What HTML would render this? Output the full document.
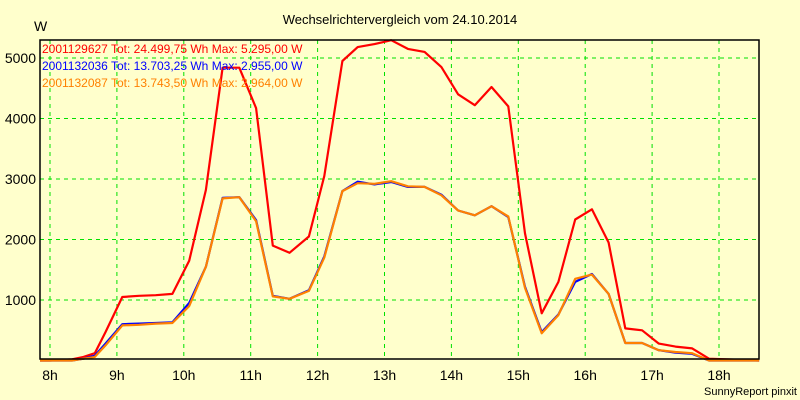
<!DOCTYPE html>
<html><head><meta charset="utf-8"><style>
body{margin:0;background:#ffffcc;}
svg{display:block;font-family:"Liberation Sans",sans-serif;}
</style></head><body>
<svg id="chart" width="800" height="400">
<rect x="0" y="0" width="800" height="400" fill="#ffffcc"/>
<text x="400" y="24" text-anchor="middle" font-size="13" fill="#000">Wechselrichtervergleich vom 24.10.2014</text>
<text x="34" y="31" font-size="14" fill="#000">W</text>
<text x="797" y="395" text-anchor="end" font-size="11" fill="#000">SunnyReport pinxit</text>
<g id="grid"></g>
<g id="series"></g>
<rect x="40" y="40" width="719" height="319" fill="none" stroke="#000" stroke-width="1.5"/>
<g id="axes"></g>
<g id="legend"></g>
</svg>
<script>
const times=[7.85,8.0,8.33,8.5,8.67,8.83,9.08,9.33,9.58,9.83,10.08,10.33,10.58,10.83,11.08,11.33,11.58,11.87,12.1,12.37,12.6,12.85,13.1,13.35,13.6,13.85,14.1,14.35,14.6,14.85,15.1,15.35,15.6,15.85,16.1,16.35,16.6,16.85,17.1,17.35,17.6,17.85,18.6];
const redVals=[0,0,20,60,120,470,1050,1070,1080,1100,1650,2820,4840,4840,4170,1900,1780,2050,3050,4950,5180,5230,5295,5150,5100,4850,4400,4220,4520,4200,2100,780,1300,2330,2500,1950,530,500,280,230,200,30,0];
const blueVals=[0,0,0,30,80,280,600,610,620,630,950,1550,2690,2700,2320,1070,1020,1160,1720,2800,2955,2910,2950,2870,2870,2740,2480,2400,2550,2370,1220,470,760,1300,1430,1100,290,290,170,130,110,0,0];
const orangeVals=[0,0,0,30,60,250,580,590,610,620,900,1550,2680,2700,2300,1060,1020,1150,1700,2800,2930,2920,2964,2880,2870,2730,2480,2400,2550,2380,1200,450,750,1350,1420,1100,290,290,170,140,120,0,0];
const xTicks=[8,9,10,11,12,13,14,15,16,17,18];
const xTickLabels=["8h","9h","10h","11h","12h","13h","14h","15h","16h","17h","18h"];
const yTicks=[1000,2000,3000,4000,5000];
const legendLabels=["2001129627 Tot: 24.499,75 Wh Max: 5.295,00 W","2001132036 Tot: 13.703,25 Wh Max: 2.955,00 W","2001132087 Tot: 13.743,50 Wh Max: 2.964,00 W"];
const NS="http://www.w3.org/2000/svg";
function xs(h){return 50+(h-8)*66.9;}
function ys(v){return 360.5-v*0.0605;}
function mk(tag,attrs,parent){const e=document.createElementNS(NS,tag);for(const k in attrs)e.setAttribute(k,attrs[k]);parent.appendChild(e);return e;}
const grid=document.getElementById('grid'),axes=document.getElementById('axes'),ser=document.getElementById('series'),leg=document.getElementById('legend');
xTicks.forEach((t,i)=>{
 const l=mk('line',{x1:xs(t),x2:xs(t),y1:40,y2:359,stroke:'#00e000','stroke-dasharray':'4,4','stroke-width':1},grid);
 
 
 const tx=mk('text',{x:xs(t),y:380,'text-anchor':'middle','font-size':14},axes);
 tx.textContent=xTickLabels[i];
 
 
});
yTicks.forEach(v=>{
 const l=mk('line',{x1:40,x2:759,y1:ys(v),y2:ys(v),stroke:'#00e000','stroke-dasharray':'4,4','stroke-width':1},grid);
 
 
 const tx=mk('text',{x:36,y:ys(v)+5,'text-anchor':'end','font-size':14},axes);
 tx.textContent=String(v);
 
 
});
function line(vals,color,name){
 const d=vals.map((v,i)=>(i?'L':'M')+xs(times[i]).toFixed(1)+','+ys(v).toFixed(1)).join(' ');
 const p=mk('path',{d:d,fill:'none',stroke:color,'stroke-width':2.2,'stroke-linejoin':'round'},ser);
 
 
}
line(redVals,'#ff0000','series-2001129627');
line(blueVals,'#0000ff','series-2001132036');
line(orangeVals,'#ff8000','series-2001132087');
const lc=['#ff0000','#0000ff','#ff8000'];
legendLabels.forEach((s,i)=>{
 const t=mk('text',{x:42,y:53+i*17,'font-size':12,fill:lc[i]},leg);
 t.textContent=s;
 
 
});
</script>
</body></html>
